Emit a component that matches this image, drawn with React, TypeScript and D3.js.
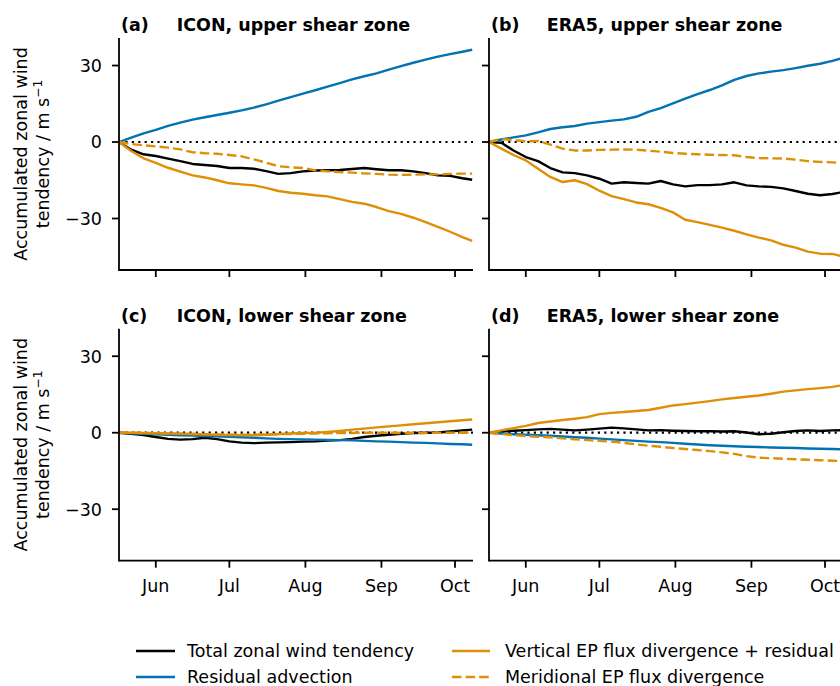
import React from "react";
import * as d3 from "d3";

// ---- data ----
const dayOffsets = [0, 5, 10, 15, 20, 25, 30, 35, 40, 45, 50, 55, 60, 65, 70, 75, 80, 85, 90, 95, 100, 105, 110, 115, 120, 125, 130, 135, 140, 144];

const iconUpperTotal = [0, -3.0, -4.8, -5.5, -6.5, -7.5, -8.6, -9.0, -9.4, -10.2, -10.2, -10.5, -11.4, -12.5, -12.2, -11.5, -11.2, -11.1, -11.0, -10.6, -10.2, -10.7, -11.1, -11.1, -11.5, -12.2, -13.1, -13.3, -14.2, -14.8];
const iconUpperResidual = [0, 1.7, 3.4, 4.8, 6.3, 7.6, 8.8, 9.7, 10.6, 11.5, 12.4, 13.5, 14.8, 16.2, 17.6, 19.0, 20.3, 21.7, 23.1, 24.6, 25.8, 26.9, 28.4, 29.8, 31.1, 32.3, 33.5, 34.5, 35.4, 36.2];
const iconUpperVertical = [0, -3.5, -6.4, -8.2, -10.1, -11.6, -13.1, -13.9, -15.0, -16.2, -16.6, -17.0, -18.0, -19.2, -19.9, -20.3, -20.9, -21.3, -22.4, -23.5, -24.2, -25.5, -27.1, -28.2, -29.7, -31.4, -33.3, -35.2, -37.3, -38.8];
const iconUpperMeridional = [0, -0.8, -1.3, -1.7, -2.2, -2.9, -4.0, -4.4, -4.6, -5.1, -5.6, -6.8, -8.1, -9.5, -9.9, -10.2, -11.1, -11.5, -11.8, -12.0, -12.3, -12.5, -12.8, -12.9, -12.8, -12.7, -12.7, -12.5, -12.4, -12.4];

const era5UpperTotal = [0, -0.3, -3.3, -5.9, -7.5, -10.2, -11.9, -12.2, -13.1, -14.4, -16.3, -15.8, -16.1, -16.3, -15.3, -16.6, -17.4, -16.9, -16.9, -16.6, -15.8, -17.0, -17.4, -17.6, -18.2, -19.2, -20.3, -20.9, -20.4, -19.7];
const era5UpperResidual = [0, 1.0, 1.8, 2.6, 3.8, 5.1, 5.8, 6.3, 7.2, 7.8, 8.4, 8.9, 9.9, 11.8, 13.3, 15.2, 17.0, 18.8, 20.4, 22.2, 24.4, 25.9, 26.9, 27.6, 28.2, 29.0, 29.9, 30.7, 31.8, 32.9];
const era5UpperVertical = [0, -2.6, -5.1, -7.2, -10.5, -13.7, -15.7, -15.0, -16.5, -19.1, -21.2, -22.4, -23.7, -24.4, -25.8, -27.6, -30.5, -31.4, -32.5, -33.6, -34.8, -36.2, -37.5, -38.6, -40.3, -41.4, -43.0, -43.8, -43.9, -44.8];
const era5UpperMeridional = [0, 1.2, 0.8, 0.3, 0.4, -1.0, -2.6, -3.3, -3.3, -3.1, -3.0, -2.9, -3.0, -3.4, -3.8, -4.3, -4.6, -4.8, -5.0, -5.1, -5.2, -5.9, -6.3, -6.4, -6.5, -6.9, -7.5, -7.8, -8.0, -8.2];

const iconLowerTotal = [0, -0.4, -0.9, -1.7, -2.4, -2.7, -2.5, -2.0, -2.5, -3.4, -3.9, -4.1, -3.9, -3.8, -3.7, -3.5, -3.4, -3.1, -2.9, -2.4, -1.7, -1.2, -0.8, -0.4, -0.1, 0, 0.1, 0.5, 0.9, 1.2];
const iconLowerResidual = [0, -0.2, -0.4, -0.6, -0.8, -1.0, -1.1, -1.3, -1.4, -1.6, -1.8, -2.0, -2.2, -2.4, -2.5, -2.6, -2.7, -2.8, -2.9, -3.0, -3.2, -3.4, -3.5, -3.7, -3.9, -4.0, -4.2, -4.4, -4.5, -4.7];
const iconLowerVertical = [0, 0, -0.1, -0.2, -0.3, -0.4, -0.5, -0.6, -0.8, -0.9, -1.0, -1.0, -0.8, -0.5, -0.3, -0.1, 0, 0.3, 0.7, 1.2, 1.6, 2.1, 2.5, 2.9, 3.3, 3.7, 4.1, 4.5, 4.9, 5.2];
const iconLowerMeridional = [0, 0, -0.1, -0.2, -0.3, -0.4, -0.5, -0.6, -0.7, -0.8, -0.8, -0.8, -0.7, -0.6, -0.5, -0.4, -0.3, -0.2, -0.1, -0.1, 0, 0, 0, -0.1, -0.1, -0.1, 0, 0, 0, 0.1];

const era5LowerTotal = [0, 0.5, 0.8, 1.0, 1.3, 1.5, 1.2, 0.9, 1.2, 1.6, 2.0, 1.7, 1.3, 0.9, 1.0, 0.8, 0.7, 0.6, 0.6, 0.5, 0.6, 0.1, -0.6, -0.4, 0.2, 0.7, 0.9, 0.7, 0.9, 1.0];
const era5LowerResidual = [0, -0.3, -0.6, -0.8, -1.0, -1.2, -1.5, -1.8, -2.0, -2.3, -2.6, -2.9, -3.2, -3.5, -3.7, -4.0, -4.3, -4.6, -4.9, -5.1, -5.3, -5.5, -5.6, -5.8, -5.9, -6.0, -6.2, -6.3, -6.4, -6.5];
const era5LowerVertical = [0, 0.9, 1.8, 2.7, 3.8, 4.4, 5.0, 5.5, 6.1, 7.3, 7.8, 8.1, 8.5, 8.9, 9.8, 10.7, 11.2, 11.8, 12.4, 13.1, 13.6, 14.1, 14.6, 15.3, 16.1, 16.6, 17.1, 17.5, 18.0, 18.6];
const era5LowerMeridional = [0, -0.5, -1.0, -1.3, -1.6, -1.8, -2.2, -2.6, -2.9, -3.2, -3.5, -4.0, -4.6, -5.1, -5.5, -6.0, -6.4, -6.8, -7.2, -7.7, -8.3, -9.2, -9.8, -10.0, -10.2, -10.4, -10.6, -10.8, -11.0, -11.1];

const monthTicks = ["2019-06-01", "2019-07-01", "2019-08-01", "2019-09-01", "2019-10-01"];
const yTicks = [-30, 0, 30];
const panelLetters = ["(a)", "(b)", "(c)", "(d)"];
const panelTitles = ["ICON, upper shear zone", "ERA5, upper shear zone", "ICON, lower shear zone", "ERA5, lower shear zone"];
const seriesNames = ["Total zonal wind tendency", "Residual advection", "Vertical EP flux divergence + residual", "Meridional EP flux divergence"];
const seriesColors = ["#000000", "#0173b2", "#de8f05", "#de8f05"];
const seriesDash = [null, null, null, "9.5,4.1"];

const panelData = [
  [iconUpperTotal, iconUpperResidual, iconUpperVertical, iconUpperMeridional],
  [era5UpperTotal, era5UpperResidual, era5UpperVertical, era5UpperMeridional],
  [iconLowerTotal, iconLowerResidual, iconLowerVertical, iconLowerMeridional],
  [era5LowerTotal, era5LowerResidual, era5LowerVertical, era5LowerMeridional],
];

// ---- layout ----
const W = 840;
const H = 686;
const FONT = "DejaVu Sans, sans-serif";
const FS = 17.5;
const START = Date.UTC(2019, 4, 17);
const END = Date.UTC(2019, 9, 8, 8);
const DAY = 86400000;
const PW = 354;
const PH = 232;
const lefts = [119, 489];
const tops = [38, 328.7];
const LW = 2.4;
const SPINE = 1.8;
const TICK = 7;

function Panel({ idx }: { idx: number }) {
  const col = idx % 2;
  const row = Math.floor(idx / 2);
  const left = lefts[col];
  const top = tops[row];
  const x = d3.scaleUtc().domain([START, END]).range([left, left + PW]);
  const y = d3.scaleLinear().domain([-50.2, 40.8]).range([top + PH, top]);
  const bottom = top + PH;
  const line = d3
    .line<number>()
    .x((_, i) => x(START + dayOffsets[i] * DAY))
    .y((v) => y(v));
  const fmt = d3.utcFormat("%b");
  return (
    <g>
      <line x1={left} x2={left + PW} y1={y(0)} y2={y(0)} stroke="#000" strokeWidth={2.2} strokeDasharray="2.2,4.2" />
      {panelData[idx].map((vals, s) => (
        <path
          key={s}
          d={line(vals) || ""}
          fill="none"
          stroke={seriesColors[s]}
          strokeWidth={LW}
          strokeDasharray={seriesDash[s] || undefined}
          strokeLinejoin="round"
        />
      ))}
      <line x1={left} x2={left} y1={top} y2={bottom + SPINE / 2} stroke="#000" strokeWidth={SPINE} />
      <line x1={left} x2={left + PW} y1={bottom} y2={bottom} stroke="#000" strokeWidth={SPINE} />
      {yTicks.map((t) => (
        <g key={t}>
          <line x1={left - TICK} x2={left} y1={y(t)} y2={y(t)} stroke="#000" strokeWidth={SPINE} />
          {col === 0 && (
            <text x={left - 17} y={y(t)} dy="0.36em" textAnchor="end" fontSize={FS} fontFamily={FONT}>
              {t < 0 ? "\u2212" + Math.abs(t) : String(t)}
            </text>
          )}
        </g>
      ))}
      {monthTicks.map((m) => {
        const d = new Date(m + "T00:00:00Z");
        const xx = x(d);
        return (
          <g key={m}>
            <line x1={xx} x2={xx} y1={bottom} y2={bottom + TICK} stroke="#000" strokeWidth={SPINE} />
            {row === 1 && (
              <text x={xx} y={bottom + 31} textAnchor="middle" fontSize={FS} fontFamily={FONT}>
                {fmt(d)}
              </text>
            )}
          </g>
        );
      })}
      <text x={left + 2} y={top - 7} fontSize={FS} fontFamily={FONT} fontWeight="bold">
        {panelLetters[idx]}
      </text>
      <text x={left + 57.7} y={top - 7} fontSize={FS} fontFamily={FONT} fontWeight="bold">
        {panelTitles[idx]}
      </text>
      {col === 0 && (
        <g transform={`translate(0, ${top + PH / 2})`}>
          <text transform="translate(27,0) rotate(-90)" textAnchor="middle" fontSize={FS} fontFamily={FONT}>
            Accumulated zonal wind
          </text>
          <text transform="translate(48.5,0) rotate(-90)" textAnchor="middle" fontSize={FS} fontFamily={FONT}>
            tendency / m s
            <tspan fontSize={FS * 0.7} dy={-7}>
              {"\u22121"}
            </tspan>
          </text>
        </g>
      )}
    </g>
  );
}

function Legend() {
  const rowsY = [651, 677];
  const handleX = [[136, 175], [452, 490]];
  const textX = [187, 505];
  return (
    <g>
      {seriesNames.map((name, i) => {
        const c = Math.floor(i / 2);
        const r = i % 2;
        const yy = rowsY[r];
        return (
          <g key={name}>
            <line
              x1={handleX[c][0]}
              x2={handleX[c][1]}
              y1={yy}
              y2={yy}
              stroke={seriesColors[i]}
              strokeWidth={LW}
              strokeDasharray={seriesDash[i] || undefined}
            />
            <text x={textX[c]} y={yy} dy="0.36em" fontSize={FS} fontFamily={FONT}>
              {name}
            </text>
          </g>
        );
      })}
    </g>
  );
}

export default function App() {
  return (
    <svg
      width={W}
      height={H}
      viewBox={`0 0 ${W} ${H}`}
      style={{ position: "absolute", left: 0, top: 0, background: "#fff" }}
    >
      <rect width={W} height={H} fill="#fff" />
      {[0, 1, 2, 3].map((i) => (
        <Panel key={i} idx={i} />
      ))}
      <Legend />
    </svg>
  );
}
